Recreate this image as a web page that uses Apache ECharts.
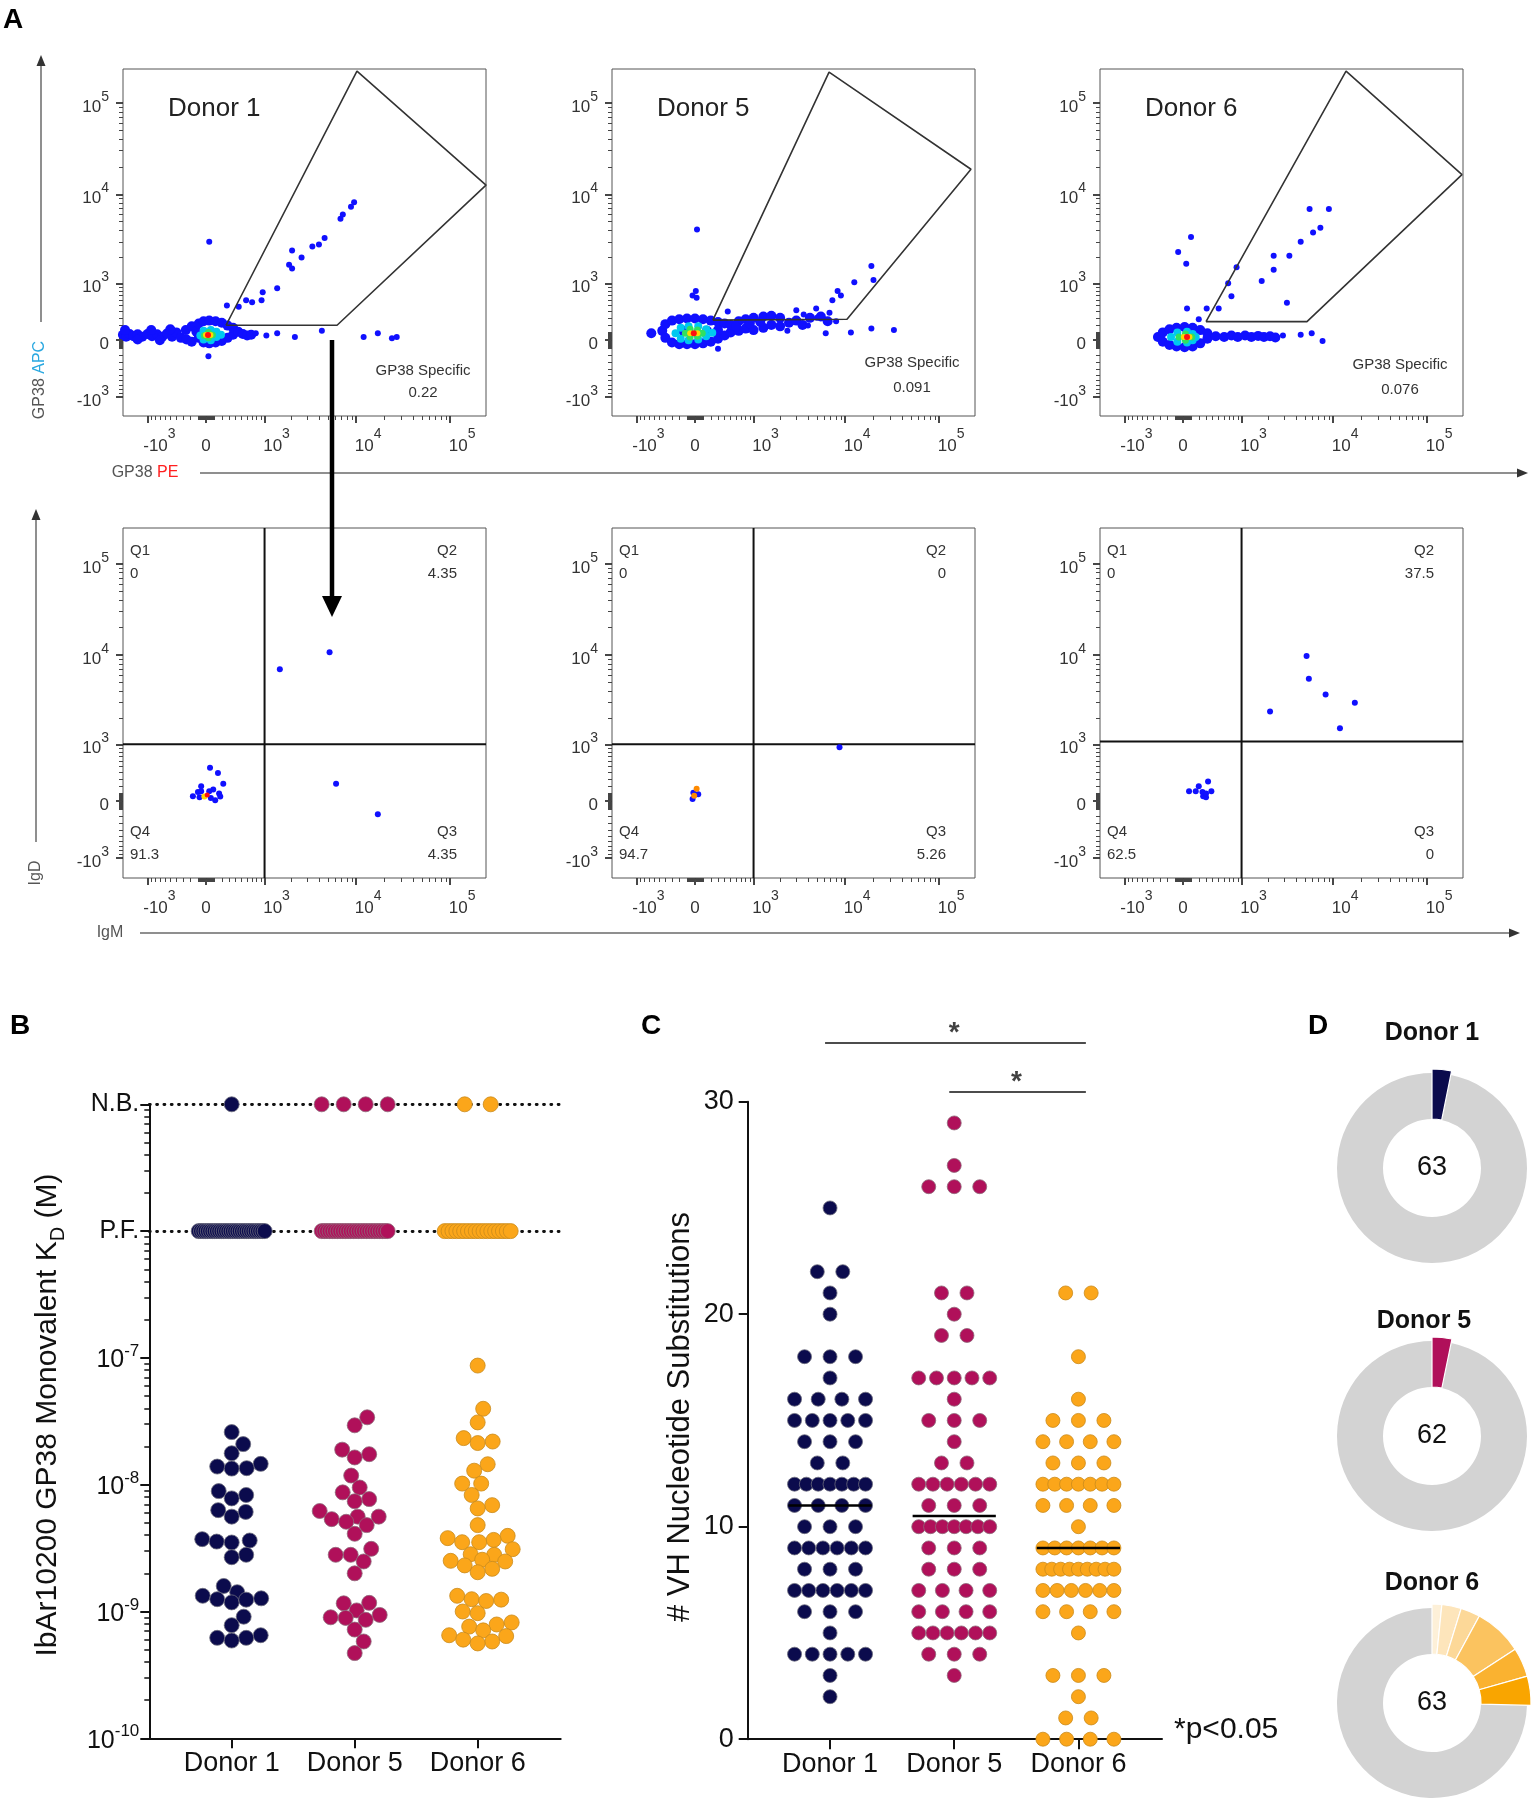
<!DOCTYPE html>
<html>
<head>
<meta charset="utf-8">
<title>GP38 figure</title>
<script src="https://cdn.jsdelivr.net/npm/echarts@6.0.0/dist/echarts.min.js"></script>
<style>
html,body{margin:0;padding:0;background:#ffffff;}
#chart{width:1533px;height:1800px;}
</style>
</head>
<body>
<div id="chart"></div>
<script>
// ================= DATA =================
const donors = ['Donor 1', 'Donor 5', 'Donor 6'];

// ---- Panel A : flow cytometry (fluorescence values, [x, y]) ----
const flowTicks = [-1000, 0, 1000, 10000, 100000];
const flowTickBase = ['-10', '0', '10', '10', '10'];
const flowTickExp = ['3', '', '3', '4', '5'];
const gp38Specific = [0.22, 0.091, 0.076];
const quadrantPct = [[0, 4.35, 4.35, 91.3], [0, 0, 5.26, 94.7], [0, 37.5, 0, 62.5]]; // Q1,Q2,Q3,Q4
const quadrantGate = [[1000, 1000], [1000, 1000], [1000, 1080]];
const gp38Gate1 = [[258, 195], [10190, 223000], [240700, 12600], [6250, 195]];
const gp38Gate5 = [[228, 267], [6730, 217500], [218000, 18800], [10450, 280]];
const gp38Gate6 = [[300, 245], [13700, 223000], [234700, 16400], [5250, 245]];

// Donor 1, GP38 APC vs GP38 PE
const t1Events = [[9500,8200],[8800,7300],[6800,5400],[7200,6000],[4600,3300],[4000,2800],[3400,2650],[2600,2000],[2050,2400],[1900,1650],[2050,1500],[1400,870],[950,770],[920,600],[700,560],[580,600],[450,480],[270,500],[40,3000],[30,-210],[780,90],[1050,60],[1400,90],[2200,40],[4300,120],[12000,40],[17000,90],[24000,25],[27000,40]];
const t1Blue = [[-1900,70],[-1750,45],[-1600,80],[-1450,50],[-1300,75],[-1150,45],[-1000,80],[-880,50],[-760,75],[-650,45],[-560,85],[-470,45],[-400,100],[-330,30],[-260,130],[-250,10],[-180,180],[-180,-20],[-120,110],[-90,30],[-90,220],[-30,-30],[-30,250],[40,-40],[40,260],[120,-30],[120,250],[200,-10],[200,230],[280,30],[280,190],[360,70],[360,160],[440,110],[520,80],[600,60],[680,70],[-1800,130],[-1300,10],[-900,130],[-700,0],[-500,140]];
const t1Cyan = [[-70,60],[-30,10],[-30,120],[60,0],[60,130],[130,40],[130,110],[190,70]];
const t1Green = [[-20,60],[30,30],[30,100],[80,65]];
const t1Yellow = [[0,65],[55,65]];
const t1Red = [[25,65]];

// Donor 5, GP38 APC vs GP38 PE
const t5Events = [[25,4100],[-30,700],[10,800],[20,650],[450,400],[3600,350],[4900,450],[7300,600],[9000,700],[8300,800],[12500,1030],[19000,1600],[20000,1100],[300,-110],[11500,100],[19000,150],[33000,130],[6200,90],[4000,190],[2400,120],[5000,300],[6800,380],[3000,420],[8000,250]];
const t5Blue = [[-650,90],[-450,120],[-400,30],[-400,210],[-300,-30],[-300,260],[-200,-50],[-200,280],[-100,-50],[-100,290],[0,-50],[0,290],[100,-40],[100,280],[200,-20],[200,260],[300,20],[300,240],[400,60],[400,220],[500,100],[500,200],[650,120],[650,250],[800,150],[800,280],[1000,130],[1000,300],[1300,160],[1300,320],[1600,200],[1600,330],[2000,180],[2000,300],[2500,230],[3000,260],[3500,200],[4200,300],[5500,320],[6500,250],[-150,120],[150,120],[300,130],[600,180],[900,220],[1200,240]];
const t5Cyan = [[-250,90],[-180,20],[-180,160],[-80,0],[-80,180],[40,10],[40,180],[140,50],[140,140],[220,95]];
const t5Green = [[-120,90],[-60,40],[-60,140],[30,50],[30,130],[90,90]];
const t5Yellow = [[-60,90],[30,90]];
const t5Red = [[-15,90]];

// Donor 6, GP38 APC vs GP38 PE
const t6Events = [[5600,6900],[9000,6900],[7300,4300],[6100,3800],[4500,3000],[3400,2100],[2300,2100],[2300,1450],[1700,1070],[3200,550],[870,1550],[680,1000],[750,680],[500,450],[310,450],[200,280],[50,450],[100,3400],[-60,2300],[40,1700],[2900,60],[4500,70],[5900,90],[7700,-10]];
const t6Blue = [[-330,40],[-260,-20],[-260,100],[-170,-60],[-170,140],[-80,-80],[-80,160],[20,-90],[20,170],[120,-80],[120,160],[220,-40],[220,130],[320,20],[320,90],[450,50],[600,40],[750,60],[900,40],[1100,60],[1300,40],[1550,55],[1800,40],[2100,50],[2400,35]];
const t6Cyan = [[-150,40],[-70,-20],[-70,100],[50,-30],[50,110],[160,40],[120,0],[120,80]];
const t6Green = [[-50,40],[30,0],[30,80],[110,40]];
const t6Yellow = [[10,40],[80,40]];
const t6Red = [[50,40]];

// IgD vs IgM of the GP38 specific cells
const b1Events = [[1500,7000],[5200,10800],[6100,230],[17000,-170],[50,480],[150,390],[220,230],[-165,65],[115,13],[165,100],[-60,195],[90,150],[-100,120],[180,60],[-60,130],[40,130],[-80,50],[60,40]];
const b1Yellow = [[-20,60]];
const b1Red = [[15,80]];
const b5Events = [[-30,30],[40,90],[-20,110],[8700,920]];
const b5Orange = [[20,160],[-10,70]];
const b6Events = [[5200,9800],[5500,5500],[8300,3700],[17000,3000],[2100,2400],[11800,1550],[75,130],[200,195],[330,260],[260,65],[300,50],[380,130],[160,130],[250,120],[300,100]];

// ---- Panel B : monovalent KD (M) ----
const kdDonor1 = [2.6e-8,2.09e-8,1.77e-8,1.46e-8,1.39e-8,1.34e-8,1.35e-8,8.9e-9,8.3e-9,7.8e-9,6.3e-9,6.1e-9,5.6e-9,3.72e-9,3.63e-9,3.56e-9,3.5e-9,2.8e-9,2.68e-9,1.59e-9,1.42e-9,1.33e-9,1.25e-9,1.18e-9,1.24e-9,1.27e-9,9.1e-10,7.8e-10,6.5e-10,6.2e-10,6.2e-10,5.9e-10];
const kdDonor5 = [3.4e-8,2.94e-8,1.89e-8,1.74e-8,1.64e-8,1.18e-8,9.5e-9,8.7e-9,7.7e-9,7.4e-9,6.2e-9,5.6e-9,5.6e-9,5.35e-9,5.1e-9,4.8e-9,4.1e-9,3.12e-9,2.8e-9,2.8e-9,2.48e-9,2.0e-9,1.16e-9,1.17e-9,1.02e-9,9.4e-10,9.0e-10,8.9e-10,8.6e-10,7.2e-10,5.8e-10,4.7e-10];
const kdDonor6 = [8.7e-8,3.97e-8,3.1e-8,2.33e-8,2.19e-8,2.13e-8,1.45e-8,1.29e-8,1.02e-8,1.02e-8,8.3e-9,6.9e-9,6.5e-9,4.8e-9,3.95e-9,3.79e-9,3.67e-9,3.52e-9,3.52e-9,3.1e-9,2.83e-9,2.8e-9,2.56e-9,2.51e-9,2.48e-9,2.31e-9,2.17e-9,2.04e-9,1.33e-9,1.25e-9,1.24e-9,1.21e-9,1.0e-9,9.7e-10,8.2e-10,7.9e-10,7.6e-10,7.1e-10,6.5e-10,6.4e-10,6.0e-10,5.8e-10,5.6e-10];
const kdNB = [1, 4, 2];   // non-binders
const kdPF = [30, 26, 18]; // poor fit
const kdTickLabels = {'-5': 'N.B.', '-6': 'P.F.'};

// ---- Panel C : VH nucleotide substitutions ----
const vhDonor1 = [25,22,22,21,20,18,18,18,17,16,16,16,16,15,15,15,15,15,14,14,14,13,13,12,12,12,12,12,12,12,11,11,11,11,10,10,10,9,9,9,9,9,9,8,8,8,7,7,7,7,7,7,6,6,6,5,4,4,4,4,4,3,2];
const vhDonor5 = [29,27,26,26,26,21,21,20,19,19,17,17,17,17,17,16,15,15,15,14,13,13,12,12,12,12,12,12,11,11,11,10,10,10,10,10,10,10,9,9,9,8,8,8,7,7,7,7,6,6,6,6,5,5,5,5,5,5,4,4,4,3];
const vhDonor6 = [21,21,18,16,15,15,15,14,14,14,14,13,13,13,12,12,12,12,12,12,12,11,11,11,11,10,9,9,9,9,9,9,9,8,8,8,8,8,8,8,8,8,7,7,7,7,7,7,6,6,6,6,5,3,3,3,2,1,1,0,0,0,0];
const sigPairs = [[0, 2], [1, 2]];
const sigLabel = '*';
const sigNote = '*p<0.05';

// ---- Panel D : donuts ----
const donutTotals = [63, 62, 63];
const donutSlices1 = [2];
const donutSlices5 = [2];
const donutSlices6 = [1, 2, 2, 5, 3, 3];

// ================= STYLE / LAYOUT =================
const FF = '"Liberation Sans", Arial, Helvetica, sans-serif';
const donorColors = ['#0b0b4d', '#b0105a', '#fba61a'];
const donorBorders = ['#6c6c7c', '#8e6a7a', '#c98a1c'];
const donut6Colors = ['#fdf0d8', '#fde5bb', '#fcd898', '#fbc35f', '#fab230', '#f9a500'];

const LC = 505;
const T = v => Math.asinh(v / LC) / Math.LN10;
const Tinv = u => LC * Math.sinh(u * Math.LN10);

const chart = echarts.init(document.getElementById('chart'), null, {renderer: 'canvas', width: 1533, height: 1800});

const grids = [], xAxes = [], yAxes = [], series = [], G = [];

const majorT = flowTicks.map(T);
const minorRaw = [];
[1, -1].forEach(s => {
  for (let k = 1; k <= 9; k++) { minorRaw.push(s * k * 10); minorRaw.push(s * k * 100); }
  for (let k = 2; k <= 9; k++) { minorRaw.push(s * k * 1000); minorRaw.push(s * k * 10000); }
});
const minorT = minorRaw.map(T);

function flowIdx(v) { let bi = 0, bd = Infinity; majorT.forEach((t, i) => { const d = Math.abs(t - v); if (d < bd) { bd = d; bi = i; } }); return bi; }
function flowFmtX(v) { const i = flowIdx(v); return flowTickExp[i] ? '{bp|' + flowTickBase[i] + '}{s|' + flowTickExp[i] + '}' : '{b|' + flowTickBase[i] + '}'; }
function flowFmtY(v) { const i = flowIdx(v); return flowTickExp[i] ? '{b|' + flowTickBase[i] + '}{s|' + flowTickExp[i] + '}' : '{b|' + flowTickBase[i] + '}'; }
const flowRichX = {
  b: {fontSize: 17, fontFamily: FF, color: '#333', lineHeight: 28, verticalAlign: 'bottom'},
  bp: {fontSize: 17, fontFamily: FF, color: '#333', lineHeight: 28, verticalAlign: 'bottom', padding: [0, 0, 0, 24]},
  s: {fontSize: 14, fontFamily: FF, color: '#333', lineHeight: 28, verticalAlign: 'top'}
};
const flowRichY = {
  b: {fontSize: 17, fontFamily: FF, color: '#333', lineHeight: 26, verticalAlign: 'bottom'},
  s: {fontSize: 14, fontFamily: FF, color: '#333', lineHeight: 26, verticalAlign: 'top'}
};

const XR = [-0.883, 2.979];
function addFlow(left, top, h, yr) {
  const gi = grids.length;
  grids.push({left: left, top: top, width: 363, height: h, show: true, borderColor: '#555', borderWidth: 1, backgroundColor: 'rgba(0,0,0,0)', containLabel: false});
  const xi = xAxes.length, yi = yAxes.length;
  const base = {type: 'value', gridIndex: gi, axisLine: {show: false, onZero: false}, splitLine: {show: false}, silent: true};
  xAxes.push(Object.assign({}, base, {position: 'bottom', min: XR[0], max: XR[1],
    axisTick: {show: true, customValues: majorT, length: 7, lineStyle: {color: '#333', width: 1.8}},
    axisLabel: {show: true, customValues: majorT, margin: 11, formatter: flowFmtX, rich: flowRichX}}));
  xAxes.push(Object.assign({}, base, {position: 'bottom', min: XR[0], max: XR[1],
    axisTick: {show: true, customValues: minorT, length: 4, lineStyle: {color: '#444', width: 1}},
    axisLabel: {show: false}}));
  yAxes.push(Object.assign({}, base, {position: 'left', min: yr[0], max: yr[1],
    axisTick: {show: true, customValues: majorT, length: 7, lineStyle: {color: '#333', width: 1.8}},
    axisLabel: {show: true, customValues: majorT, margin: 14, formatter: flowFmtY, rich: flowRichY, align: 'right'}}));
  yAxes.push(Object.assign({}, base, {position: 'left', min: yr[0], max: yr[1],
    axisTick: {show: true, customValues: minorT, length: 4, lineStyle: {color: '#444', width: 1}},
    axisLabel: {show: false}}));
  return {xi: xi, yi: yi, yr: yr};
}
function pts(arr) { return arr.map(p => [T(p[0]), T(p[1])]); }
function addScatter(ax, arr, color, size, z) {
  series.push({type: 'scatter', xAxisIndex: ax.xi, yAxisIndex: ax.yi, data: pts(arr), symbol: 'circle', symbolSize: size,
    itemStyle: {color: color, opacity: 1, borderWidth: 0}, z: z, silent: true, animation: false});
}
function addPath(ax, arr, color, width, z) {
  series.push({type: 'line', xAxisIndex: ax.xi, yAxisIndex: ax.yi, data: pts(arr), symbol: 'none', showSymbol: false,
    lineStyle: {color: color, width: width}, z: z, silent: true, animation: false});
}

const plotLefts = [123, 612, 1100];
const topSets = [
  [t1Events, t1Blue, t1Cyan, t1Green, t1Yellow, t1Red, gp38Gate1],
  [t5Events, t5Blue, t5Cyan, t5Green, t5Yellow, t5Red, gp38Gate5],
  [t6Events, t6Blue, t6Cyan, t6Green, t6Yellow, t6Red, gp38Gate6]
];
const specY = [[371, 393], [363, 388], [365, 390]];
topSets.forEach((s, c) => {
  const ax = addFlow(plotLefts[c], 69, 347, [-0.83, 2.97]);
  addScatter(ax, s[1], '#1010ff', 10, 3);
  addScatter(ax, s[0], '#1010ff', 6, 3);
  addScatter(ax, s[2], '#00c8f0', 8, 4);
  addScatter(ax, s[3], '#30e060', 7, 5);
  addScatter(ax, s[4], '#ffd800', 6, 6);
  addScatter(ax, s[5], '#ff1010', 6, 7);
  addPath(ax, s[6].concat([s[6][0]]), '#333', 1.6, 8);
  const L = plotLefts[c], R = L + 363;
  G.push({type: 'text', x: L + 45, y: 109, silent: true, style: {text: donors[c], fontSize: 26, fontFamily: FF, fill: '#222', align: 'left', verticalAlign: 'middle'}});
  G.push({type: 'text', x: R - 63, y: specY[c][0], silent: true, style: {text: 'GP38 Specific', fontSize: 15, fontFamily: FF, fill: '#333', align: 'center', verticalAlign: 'middle'}});
  G.push({type: 'text', x: R - 63, y: specY[c][1], silent: true, style: {text: String(gp38Specific[c]), fontSize: 15, fontFamily: FF, fill: '#333', align: 'center', verticalAlign: 'middle'}});
});

const botSets = [
  [[b1Events, '#1010ff', 6, 3], [b1Yellow, '#ffd800', 6, 5], [b1Red, '#ff1010', 5, 6]],
  [[b5Events, '#1010ff', 6, 3], [b5Orange, '#ff8a00', 6, 5]],
  [[b6Events, '#1010ff', 6, 3]]
];
botSets.forEach((sets, c) => {
  const yr = [-0.84, 2.99];
  const ax = addFlow(plotLefts[c], 528, 350, yr);
  const q = quadrantGate[c];
  addPath(ax, [[q[0], Tinv(yr[0])], [q[0], Tinv(yr[1])]], '#111', 2, 2);
  addPath(ax, [[Tinv(XR[0]), q[1]], [Tinv(XR[1]), q[1]]], '#111', 2, 2);
  sets.forEach(s => addScatter(ax, s[0], s[1], s[2], s[3]));
  const L = plotLefts[c], R = L + 363, p = quadrantPct[c];
  const qs = [['Q1', p[0], L + 7, 551, 'left'], ['Q2', p[1], R - 29, 551, 'right'], ['Q4', p[3], L + 7, 832, 'left'], ['Q3', p[2], R - 29, 832, 'right']];
  qs.forEach(t => {
    G.push({type: 'text', x: t[2], y: t[3], silent: true, style: {text: t[0], fontSize: 15, fontFamily: FF, fill: '#333', align: t[4], verticalAlign: 'middle'}});
    G.push({type: 'text', x: t[2], y: t[3] + 23, silent: true, style: {text: String(t[1]), fontSize: 15, fontFamily: FF, fill: '#333', align: t[4], verticalAlign: 'middle'}});
  });
});

// ---- helpers for dot plots ----
function swarm(ys, D, maxHalf) {
  const idx = ys.map((y, i) => i).sort((a, b) => ys[a] - ys[b]);
  const xs = new Array(ys.length).fill(0);
  const placed = [];
  idx.forEach(i => {
    const y = ys[i];
    let chosen = null;
    for (let k = 0; k <= maxHalf * 2 && chosen === null; k++) {
      const cands = k === 0 ? [0] : [k * 0.5, -k * 0.5];
      for (const x of cands) {
        if (placed.every(p => (x - p[0]) * (x - p[0]) + (y - p[1]) * (y - p[1]) >= D * D)) { chosen = x; break; }
      }
    }
    if (chosen === null) {
      let best = -1, bx = 0;
      for (let x = -maxHalf; x <= maxHalf; x += 0.5) {
        let m = Infinity;
        placed.forEach(p => { m = Math.min(m, (x - p[0]) * (x - p[0]) + (y - p[1]) * (y - p[1])); });
        if (m > best) { best = m; bx = x; }
      }
      chosen = bx;
    }
    xs[i] = chosen; placed.push([chosen, y]);
  });
  return xs;
}
function rowOffsets(n, sp, maxHalf) {
  const s = n > 1 ? Math.min(sp, 2 * maxHalf / (n - 1)) : 0;
  return Array.from({length: n}, (_, i) => (i - (n - 1) / 2) * s);
}
function catAxis(gi, min, max) {
  return {type: 'value', gridIndex: gi, position: 'bottom', min: min, max: max,
    axisLine: {show: true, onZero: false, lineStyle: {color: '#111', width: 2}}, splitLine: {show: false},
    axisTick: {show: true, customValues: [0, 1, 2], length: 10, lineStyle: {color: '#111', width: 2}},
    axisLabel: {show: true, customValues: [0, 1, 2], formatter: v => donors[Math.round(v)], fontSize: 27, fontFamily: FF, color: '#111', margin: 12}};
}

// ---- Panel B ----
const gB = grids.length;
grids.push({left: 149.3, top: 1104.3, width: 411.4, height: 634, containLabel: false});
const xB = xAxes.length; xAxes.push(catAxis(gB, -0.67, 2.675));
const yB = yAxes.length;
yAxes.push({type: 'value', gridIndex: gB, position: 'left', min: -10, max: -5, interval: 1,
  axisLine: {show: true, onZero: false, lineStyle: {color: '#111', width: 2}}, splitLine: {show: false},
  axisTick: {show: true, length: 9, lineStyle: {color: '#111', width: 2}},
  axisLabel: {show: true, margin: 10, formatter: v => kdTickLabels[String(v)] ? '{t|' + kdTickLabels[String(v)] + '}' : '{b|10}{s|' + v + '}',
    rich: {t: {fontSize: 25, fontFamily: FF, color: '#111', lineHeight: 30},
           b: {fontSize: 25, fontFamily: FF, color: '#111', lineHeight: 30, verticalAlign: 'bottom'},
           s: {fontSize: 17, fontFamily: FF, color: '#111', lineHeight: 30, verticalAlign: 'top'}}}});
const kdMinor = [];
for (let n = -10; n < -5; n++) for (let k = 2; k <= 9; k++) kdMinor.push(n + Math.log10(k));
yAxes.push({type: 'value', gridIndex: gB, position: 'left', min: -10, max: -5,
  axisLine: {show: false, onZero: false}, splitLine: {show: false},
  axisTick: {show: true, customValues: kdMinor, length: 5, lineStyle: {color: '#111', width: 1.5}}, axisLabel: {show: false}});
series.push({type: 'line', xAxisIndex: xB, yAxisIndex: yB, data: [], z: 2, silent: true, animation: false,
  markLine: {silent: true, symbol: ['none', 'none'], label: {show: false}, animation: false,
    lineStyle: {color: '#111', type: [1, 6.3], width: 2.8, cap: 'round'}, data: [{yAxis: -5}, {yAxis: -6}]}});
[kdDonor1, kdDonor5, kdDonor6].forEach((vals, d) => {
  const ys = vals.map(v => Math.log10(v) * 126.7);
  const xs = swarm(ys, 14.6, 35);
  const data = vals.map((v, i) => [d + xs[i] / 123, Math.log10(v)]);
  rowOffsets(kdPF[d], 25, 33).forEach(o => data.push([d + o / 123, -6]));
  rowOffsets(kdNB[d], 26, 33).forEach(o => data.push([d + o / 123, -5]));
  series.push({type: 'scatter', xAxisIndex: xB, yAxisIndex: yB, data: data, symbolSize: 15, z: 5, silent: true, animation: false,
    itemStyle: {color: donorColors[d], borderColor: donorBorders[d], borderWidth: 0.8, opacity: 1}});
});

// ---- Panel C ----
const gC = grids.length;
grids.push({left: 747.7, top: 1101.7, width: 414.3, height: 637.5, containLabel: false});
const xC = xAxes.length; xAxes.push(catAxis(gC, -0.663, 2.673));
const yC = yAxes.length;
yAxes.push({type: 'value', gridIndex: gC, position: 'left', min: 0, max: 30, interval: 10,
  axisLine: {show: true, onZero: false, lineStyle: {color: '#111', width: 2}}, splitLine: {show: false},
  axisTick: {show: true, length: 9, lineStyle: {color: '#111', width: 2}},
  axisLabel: {show: true, margin: 14, fontSize: 27, fontFamily: FF, color: '#111'}});
[vhDonor1, vhDonor5, vhDonor6].forEach((vals, d) => {
  const counts = {};
  vals.forEach(v => { counts[v] = (counts[v] || 0) + 1; });
  const data = [];
  Object.keys(counts).forEach(k => rowOffsets(counts[k], 25.5, 35.5).forEach(o => data.push([d + o / 124.2, +k])));
  series.push({type: 'scatter', xAxisIndex: xC, yAxisIndex: yC, data: data, symbolSize: 14, z: 5, silent: true, animation: false,
    itemStyle: {color: donorColors[d], borderColor: donorBorders[d], borderWidth: 0.8, opacity: 1}});
  const s = vals.slice().sort((a, b) => a - b), n = s.length;
  const med = n % 2 ? s[(n - 1) / 2] : (s[n / 2 - 1] + s[n / 2]) / 2;
  series.push({type: 'line', xAxisIndex: xC, yAxisIndex: yC, data: [[d - 0.335, med], [d + 0.335, med]], symbol: 'none',
    lineStyle: {color: '#000', width: 2.5}, z: 10, silent: true, animation: false});
});
const sigLevels = [32.76, 30.46];
sigPairs.forEach((p, i) => {
  series.push({type: 'line', xAxisIndex: xC, yAxisIndex: yC, clip: false, data: [[p[0] - 0.04, sigLevels[i]], [p[1] + 0.06, sigLevels[i]]],
    symbol: 'none', lineStyle: {color: '#111', width: 1.6}, z: 10, silent: true, animation: false});
  series.push({type: 'scatter', xAxisIndex: xC, yAxisIndex: yC, clip: false, data: [[(p[0] + p[1]) / 2, sigLevels[i] + 0.47]],
    symbolSize: 1, itemStyle: {color: 'rgba(0,0,0,0)'}, z: 10, silent: true, animation: false,
    label: {show: true, formatter: sigLabel, position: 'inside', fontSize: 28, fontWeight: 'bold', fontFamily: FF, color: '#111'}});
});
G.push({type: 'text', x: 1174, y: 1730, silent: true, style: {text: sigNote, fontSize: 30, fontFamily: FF, fill: '#111', align: 'left', verticalAlign: 'middle'}});

// ---- Panel D ----
const donutSets = [[donutSlices1, [donorColors[0]]], [donutSlices5, [donorColors[1]]], [donutSlices6, donut6Colors]];
const donutCenters = [[1432, 1168], [1432, 1436], [1432, 1703]];
const donutTitleX = [1432, 1424, 1432];
const donutTitleY = [1033, 1321, 1583];
donutSets.forEach((ds, d) => {
  const sl = ds[0], cols = ds[1];
  const rest = donutTotals[d] - sl.reduce((a, b) => a + b, 0);
  const common = {type: 'pie', center: donutCenters[d], startAngle: 90, clockwise: true, silent: true, animation: false,
    label: {show: false}, labelLine: {show: false}, emphasis: {disabled: true}, avoidLabelOverlap: false};
  series.push(Object.assign({}, common, {radius: [49, 95], z: 2,
    data: sl.map(v => ({value: v, itemStyle: {color: '#d3d3d3', borderWidth: 0}})).concat([{value: rest, itemStyle: {color: '#d3d3d3', borderWidth: 0}}])}));
  series.push(Object.assign({}, common, {radius: [49, 99], z: 3,
    data: sl.map((v, i) => ({value: v, itemStyle: {color: cols[i], borderColor: '#ffffff', borderWidth: 1.2}})).concat([{value: rest, itemStyle: {color: 'rgba(0,0,0,0)', borderWidth: 0}}])}));
  G.push({type: 'text', x: donutCenters[d][0], y: donutCenters[d][1], silent: true, style: {text: String(donutTotals[d]), fontSize: 27, fontFamily: FF, fill: '#111', align: 'center', verticalAlign: 'middle'}});
  G.push({type: 'text', x: donutTitleX[d], y: donutTitleY[d], silent: true, style: {text: donors[d], fontSize: 25, fontWeight: 'bold', fontFamily: FF, fill: '#111', align: 'center', verticalAlign: 'middle'}});
});

// ---- Panel A decorations (big axes, arrow) ----
const gray = '#6a6a6a';
G.push({type: 'line', shape: {x1: 41, y1: 322, x2: 41, y2: 64}, style: {stroke: gray, lineWidth: 1.5}, silent: true});
G.push({type: 'polygon', shape: {points: [[41, 55], [36.5, 66], [45.5, 66]]}, style: {fill: '#333'}, silent: true});
G.push({type: 'line', shape: {x1: 200, y1: 473, x2: 1518, y2: 473}, style: {stroke: gray, lineWidth: 1.5}, silent: true});
G.push({type: 'polygon', shape: {points: [[1528, 473], [1517, 468.5], [1517, 477.5]]}, style: {fill: '#333'}, silent: true});
G.push({type: 'line', shape: {x1: 36, y1: 842, x2: 36, y2: 518}, style: {stroke: gray, lineWidth: 1.5}, silent: true});
G.push({type: 'polygon', shape: {points: [[36, 509], [31.5, 520], [40.5, 520]]}, style: {fill: '#333'}, silent: true});
G.push({type: 'line', shape: {x1: 140, y1: 933, x2: 1510, y2: 933}, style: {stroke: gray, lineWidth: 1.5}, silent: true});
G.push({type: 'polygon', shape: {points: [[1520, 933], [1509, 928.5], [1509, 937.5]]}, style: {fill: '#333'}, silent: true});
G.push({type: 'line', shape: {x1: 332, y1: 340, x2: 332, y2: 600}, style: {stroke: '#000', lineWidth: 4.5}, silent: true, z: 50});
G.push({type: 'polygon', shape: {points: [[332, 617], [322, 596], [342, 596]]}, style: {fill: '#000'}, silent: true, z: 50});
G.push({type: 'text', x: 40, y: 380, rotation: Math.PI / 2, silent: true, style: {text: '{g|GP38 }{c|APC}', align: 'center', verticalAlign: 'middle',
  rich: {g: {fontSize: 16, fontFamily: FF, fill: '#555'}, c: {fontSize: 16, fontFamily: FF, fill: '#2aa8e0'}}}});
G.push({type: 'text', x: 145, y: 473, silent: true, style: {text: '{g|GP38 }{c|PE}', align: 'center', verticalAlign: 'middle',
  rich: {g: {fontSize: 16, fontFamily: FF, fill: '#555'}, c: {fontSize: 16, fontFamily: FF, fill: '#ff2020'}}}});
G.push({type: 'text', x: 36, y: 873, rotation: Math.PI / 2, silent: true, style: {text: 'IgD', fontSize: 16, fontFamily: FF, fill: '#555', align: 'center', verticalAlign: 'middle'}});
G.push({type: 'text', x: 110, y: 933, silent: true, style: {text: 'IgM', fontSize: 16, fontFamily: FF, fill: '#555', align: 'center', verticalAlign: 'middle'}});

// axis titles for B and C
G.push({type: 'text', x: 48, y: 1415, rotation: Math.PI / 2, silent: true, style: {text: '{a|IbAr10200 GP38 Monovalent K}{d|D}{a| (M)}', align: 'center', verticalAlign: 'middle',
  rich: {a: {fontSize: 30, fontFamily: FF, fill: '#111', lineHeight: 40, verticalAlign: 'middle'}, d: {fontSize: 20, fontFamily: FF, fill: '#111', lineHeight: 40, verticalAlign: 'bottom'}}}});
G.push({type: 'text', x: 680, y: 1417, rotation: Math.PI / 2, silent: true, style: {text: '# VH Nucleotide Substitutions', fontSize: 31, fontFamily: FF, fill: '#111', align: 'center', verticalAlign: 'middle'}});

// panel letters
[['A', 13, 20], ['B', 20, 1026], ['C', 651, 1026], ['D', 1318, 1026]].forEach(l => {
  G.push({type: 'text', x: l[1], y: l[2], silent: true, style: {text: l[0], fontSize: 28, fontWeight: 'bold', fontFamily: FF, fill: '#000', align: 'center', verticalAlign: 'middle'}});
});

chart.setOption({
  animation: false,
  backgroundColor: '#ffffff',
  textStyle: {fontFamily: FF},
  grid: grids,
  xAxis: xAxes,
  yAxis: yAxes,
  series: series,
  graphic: {elements: G}
});
</script>
</body>
</html>
